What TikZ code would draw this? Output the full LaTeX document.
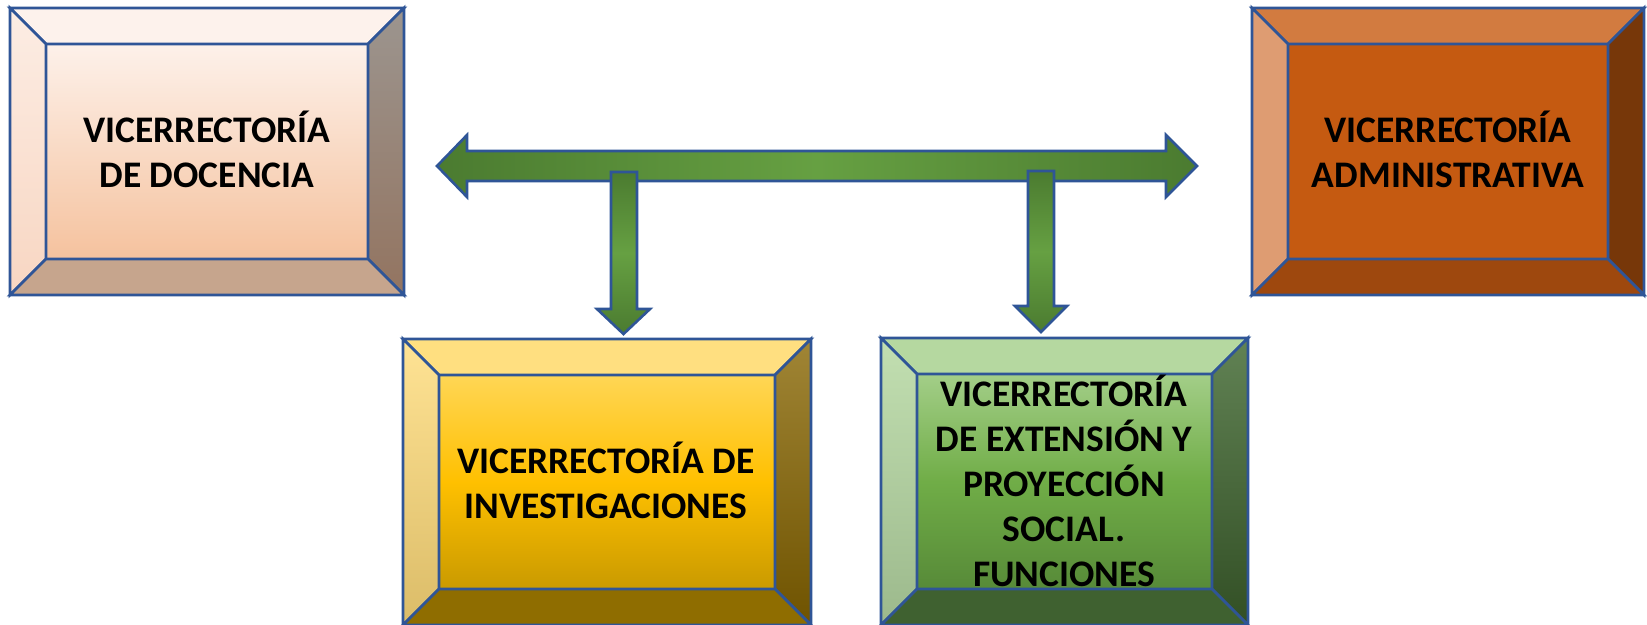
\documentclass[tikz,border=0pt]{standalone}
\usepackage{fontspec}
\setmainfont{Carlito}
\definecolor{bord}{HTML}{2F5597}
\definecolor{ardk}{HTML}{4B7B30}
\definecolor{arlt}{HTML}{66A042}
% box 1 (docencia)
\definecolor{dTop}{HTML}{FDF2EC}
\definecolor{dLa}{HTML}{FCEDE4}
\definecolor{dLb}{HTML}{F8D6C2}
\definecolor{dRa}{HTML}{9C958F}
\definecolor{dRb}{HTML}{937460}
\definecolor{dBot}{HTML}{C6A58D}
\definecolor{dFa}{HTML}{FDF1EA}
\definecolor{dFb}{HTML}{F5C29E}
% box 2 (administrativa)
\definecolor{aTop}{HTML}{D27B40}
\definecolor{aL}{HTML}{DE9C72}
\definecolor{aR}{HTML}{773709}
\definecolor{aBot}{HTML}{9E480E}
\definecolor{aF}{HTML}{C55A11}
% box 3 (investigaciones)
\definecolor{iTop}{HTML}{FFDF80}
\definecolor{iLa}{HTML}{FFE394}
\definecolor{iLb}{HTML}{DBBC68}
\definecolor{iRa}{HTML}{A08535}
\definecolor{iRb}{HTML}{6F5300}
\definecolor{iBot}{HTML}{8F6D00}
\definecolor{iFa}{HTML}{FFD655}
\definecolor{iFm}{HTML}{FFC000}
\definecolor{iFb}{HTML}{C99A00}
% box 4 (extension)
\definecolor{eTop}{HTML}{B5D8A0}
\definecolor{eLa}{HTML}{C2DFB1}
\definecolor{eLb}{HTML}{9CB98C}
\definecolor{eRa}{HTML}{618254}
\definecolor{eRb}{HTML}{324F25}
\definecolor{eBot}{HTML}{3F6130}
\definecolor{eFa}{HTML}{A3CE88}
\definecolor{eFm}{HTML}{70AD47}
\definecolor{eFb}{HTML}{578A38}
\tikzset{
  bev/.style={draw=bord, line width=2.7pt, line join=miter},
  face/.style={draw=bord, line width=2.7pt, inner sep=0pt, outer sep=0pt},
  lbl/.style={font=\bfseries\fontsize{37.5}{45}\selectfont, align=center, text=black, inner sep=0pt},
  blockarrow/.style={draw=bord, line width=2.6pt, line join=miter}
}
\newcommand\bevbox[5]{%
  \path[bev,#2] ([shift={(-36pt,36pt)}]#1.north west) -- ([shift={(36pt,36pt)}]#1.north east) -- (#1.north east) -- (#1.north west) -- cycle;
  \path[bev,#3] ([shift={(-36pt,36pt)}]#1.north west) -- (#1.north west) -- (#1.south west) -- ([shift={(-36pt,-36pt)}]#1.south west) -- cycle;
  \path[bev,#4] ([shift={(36pt,36pt)}]#1.north east) -- ([shift={(36pt,-36pt)}]#1.south east) -- (#1.south east) -- (#1.north east) -- cycle;
  \path[bev,#5] ([shift={(-36pt,-36pt)}]#1.south west) -- (#1.south west) -- (#1.south east) -- ([shift={(36pt,-36pt)}]#1.south east) -- cycle;
}
\begin{document}
\begin{tikzpicture}[x=1pt,y=-1pt]
\clip (0,0) rectangle (1647,624);
\fill[white] (0,0) rectangle (1647,624);

% inner faces
\node[face, minimum width=322pt, minimum height=215pt, top color=dFa, bottom color=dFb] (doc) at (207,151.5) {};
\node[face, minimum width=320pt, minimum height=215pt, fill=aF] (adm) at (1448,151.5) {};
\node[face, minimum width=336pt, minimum height=214pt, top color=iFa, bottom color=iFb, middle color=iFm] (inv) at (607,482) {};
\node[face, minimum width=295pt, minimum height=215pt, top color=eFa, bottom color=eFb, middle color=eFm] (ext) at (1064.5,481.5) {};

% bevels
\bevbox{doc}{fill=dTop}{top color=dLa, bottom color=dLb}{top color=dRa, bottom color=dRb}{fill=dBot}
\bevbox{adm}{fill=aTop}{fill=aL}{fill=aR}{fill=aBot}
\bevbox{inv}{fill=iTop}{top color=iLa, bottom color=iLb}{top color=iRa, bottom color=iRb}{fill=iBot}
\bevbox{ext}{fill=eTop}{top color=eLa, bottom color=eLb}{top color=eRa, bottom color=eRb}{fill=eBot}

% labels
\node[lbl] (docL) at (207,149) {VICERRECTORÍA\\DE DOCENCIA};
\node[lbl] (admL) at (1448,149) {VICERRECTORÍA\\ADMINISTRATIVA};
\node[lbl] (invL) at (606,480) {VICERRECTORÍA DE\\INVESTIGACIONES};
\node[lbl] (extL) at (1064,480.5) {VICERRECTORÍA\\DE EXTENSIÓN Y\\PROYECCIÓN\\SOCIAL.\\FUNCIONES};

% horizontal double arrow
\coordinate (hL) at (437,166);
\coordinate (hR) at (1197,166);
\path[blockarrow, left color=ardk, right color=ardk, middle color=arlt]
  (hL) -- (467,135) -- (467,151) -- (1166,151) -- (1166,135) -- (hR)
  -- (1166,197) -- (1166,181) -- (467,181) -- (467,197) -- cycle;

% down arrows
\coordinate (d1) at (623.5,334);
\coordinate (d2) at (1041,332);
\path[blockarrow, top color=ardk, bottom color=ardk, middle color=arlt]
  (611,172) -- (637,172) -- (637,309) -- (650,309) -- (d1) -- (597,309) -- (611,309) -- cycle;
\path[blockarrow, top color=ardk, bottom color=ardk, middle color=arlt]
  (1028,171) -- (1054,171) -- (1054,306) -- (1067,306) -- (d2) -- (1015,306) -- (1028,306) -- cycle;
\end{tikzpicture}
\end{document}
